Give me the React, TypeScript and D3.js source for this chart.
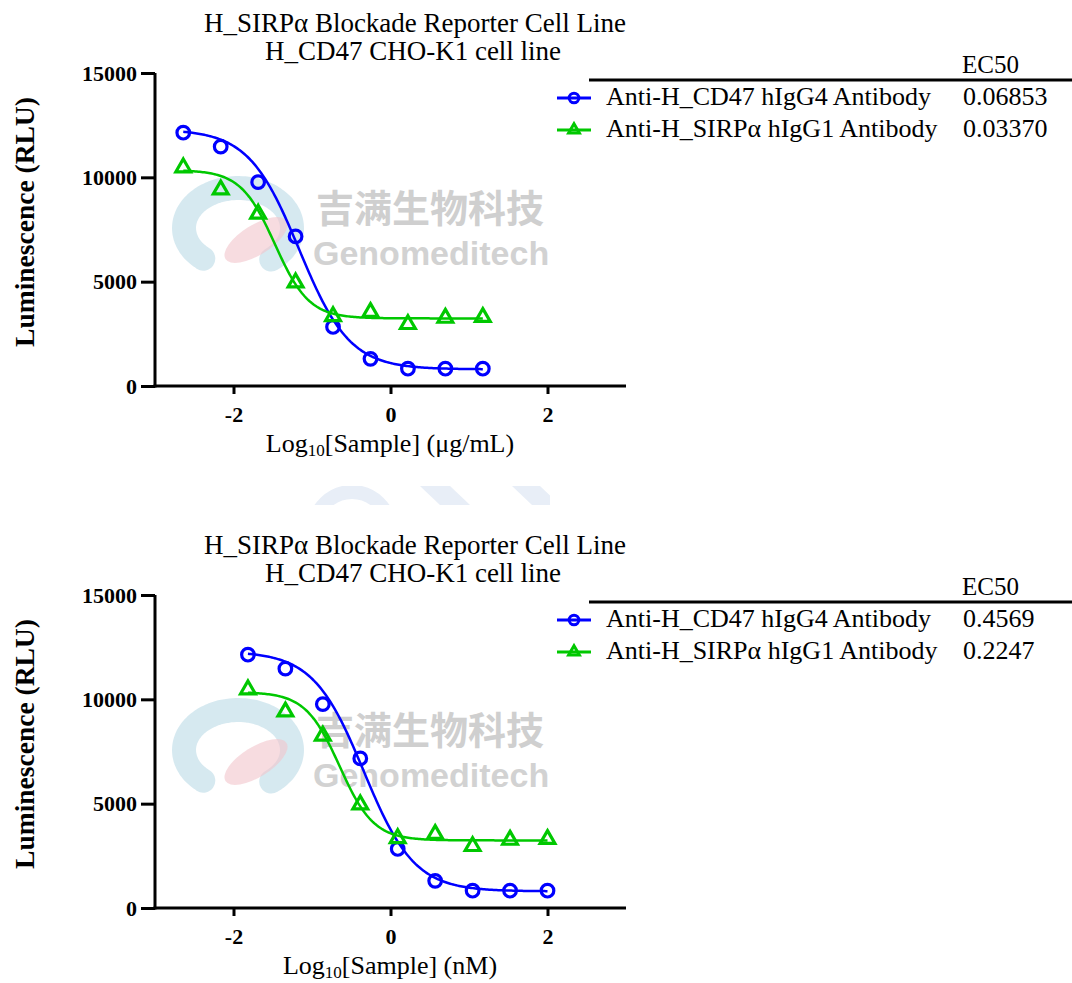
import React from 'react';
import * as d3 from "d3";

// log10 concentrations, 3-fold dilution series
const logConcUgMl = [-2.640, -2.163, -1.686, -1.209, -0.732, -0.255, 0.222, 0.699, 1.176];
const logConcNM = [-1.816, -1.339, -0.862, -0.385, 0.092, 0.569, 1.046, 1.523, 2.000];

const seriesNames = ["Anti-H_CD47 hIgG4 Antibody", "Anti-H_SIRPα hIgG1 Antibody"];
const cd47Values = [12140, 11470, 9770, 7170, 2830, 1300, 830, 830, 830];
const sirpaValues = [10470, 9410, 8250, 4955, 3340, 3540, 2960, 3260, 3300];

const ec50UgMl = [0.06853, 0.03370];
const ec50NM = [0.4569, 0.2247];
const ec50LabelsUg = ["0.06853", "0.03370"];
const ec50LabelsNM = ["0.4569", "0.2247"];

// 4PL fit parameters per series
const fitTop = [12300, 10350];
const fitBottom = [800, 3240];
const fitHill = [1.35, 2.0];

const yTicks = [0, 5000, 10000, 15000];
const xTicks = [-2, 0, 2];
const seriesColors = ["#0000ff", "#00c800"];

const titleLines = ["H_SIRPα Blockade Reporter Cell Line", "H_CD47 CHO-K1 cell line"];
const unitsLabels = ["(μg/mL)", "(nM)"];

const SERIF = "'Liberation Serif', 'Times New Roman', serif";
const W = 1072, H = 983;
const PANEL_SHIFT = 522;

type PanelOpts = {
    dy: number,
    logConc: number[],
    ec50: number[],
    ec50Labels: string[],
    units: string,
};

const App = () => {
    const svgRef = React.useRef<SVGSVGElement>(null);

    React.useEffect(() => {
        const svg = d3.select(svgRef.current);
        svg.selectAll("*").remove();

        const drawWatermark = (dy: number) => {
            const wm = svg.append("g").attr("transform", "translate(0," + dy + ")");
            const cx = 238, cy = 228, rx = 54, ry = 40;
            // "C" ring, open towards the upper right
            const ringPts = d3.range(-50, 235, 3).map(a => {
                const t = ((a - 180) * Math.PI) / 180;
                return [cx + rx * Math.cos(t), cy + ry * Math.sin(t)] as [number, number];
            });
            wm.append("path")
                .attr("d", d3.line().curve(d3.curveBasis)(ringPts))
                .attr("fill", "none")
                .attr("stroke", "#c4e0ea")
                .attr("stroke-opacity", 0.7)
                .attr("stroke-width", 24)
                .attr("stroke-linecap", "round");
            wm.append("ellipse")
                .attr("cx", 256).attr("cy", 240)
                .attr("rx", 36).attr("ry", 15)
                .attr("transform", "rotate(-32,256,240)")
                .attr("fill", "#f2c4cc")
                .attr("opacity", 0.6);
            wm.append("text")
                .attr("x", 316).attr("y", 222)
                .attr("font-family", "'Noto Sans CJK SC', sans-serif")
                .attr("font-weight", "bold")
                .attr("font-size", 38)
                .attr("fill", "#cfcfcf")
                .text("吉满生物科技");
            wm.append("text")
                .attr("x", 313).attr("y", 265)
                .attr("font-family", "'Liberation Sans', Arial, sans-serif")
                .attr("font-weight", "bold")
                .attr("font-size", 34)
                .attr("fill", "#d2d2d2")
                .text("Genomeditech");
        };

        const drawPanel = (o: PanelOpts) => {
            const g = svg.append("g").attr("transform", "translate(0," + o.dy + ")");

            const x = d3.scaleLinear().domain([-3, 3]).range([155, 626]);
            const y = d3.scaleLinear().domain([0, 15000]).range([386, 73]);

            // title
            g.append("text")
                .attr("x", 415).attr("y", 32)
                .attr("text-anchor", "middle")
                .attr("font-family", SERIF)
                .attr("font-size", 27)
                .text(titleLines[0]);
            g.append("text")
                .attr("x", 413).attr("y", 60)
                .attr("text-anchor", "middle")
                .attr("font-family", SERIF)
                .attr("font-size", 27)
                .text(titleLines[1]);

            // axes
            const yAxis = d3.axisLeft(y)
                .tickValues(yTicks)
                .tickSize(14)
                .tickSizeOuter(0)
                .tickPadding(4)
                .tickFormat(d3.format("d") as any);
            const xAxis = d3.axisBottom(x)
                .tickValues(xTicks)
                .tickSize(8)
                .tickSizeOuter(0)
                .tickPadding(12)
                .tickFormat(d3.format("d") as any);

            const ya = g.append("g")
                .attr("transform", "translate(155,0)")
                .call(yAxis);
            const xa = g.append("g")
                .attr("transform", "translate(0,386)")
                .call(xAxis);

            [ya, xa].forEach(a => {
                a.select(".domain").attr("stroke-width", 3).attr("stroke", "#000");
                a.selectAll(".tick line").attr("stroke-width", 3).attr("stroke", "#000");
                a.selectAll(".tick text")
                    .attr("font-family", SERIF)
                    .attr("font-weight", "bold")
                    .attr("font-size", 22)
                    .attr("fill", "#000");
            });
            // stretch the domains so the corner meets cleanly
            xa.select(".domain").attr("d", "M153.5,0H626");
            ya.select(".domain").attr("d", "M0,387.5V73");
            xa.selectAll(".tick text").text((d: any) => d < 0 ? "-" + Math.abs(d) : String(d));

            // y label
            g.append("text")
                .attr("transform", "translate(34,222) rotate(-90)")
                .attr("text-anchor", "middle")
                .attr("font-family", SERIF)
                .attr("font-weight", "bold")
                .attr("font-size", 27.5)
                .text("Luminescence (RLU)");

            // x label with subscript
            const xl = g.append("text")
                .attr("x", 390).attr("y", 452)
                .attr("text-anchor", "middle")
                .attr("font-family", SERIF)
                .attr("font-size", 26);
            xl.append("tspan").text("Log");
            xl.append("tspan").attr("dy", 4).attr("font-size", 17).text("10");
            xl.append("tspan").attr("dy", -4).text("[Sample] " + o.units);

            const seriesValues = [cd47Values, sirpaValues];

            // fitted curves
            seriesValues.forEach((vals, i) => {
                const logEc = Math.log10(o.ec50[i]);
                const x0 = d3.min(o.logConc) as number;
                const x1 = d3.max(o.logConc) as number;
                const pts = d3.range(0, 201).map(k => {
                    const lx = x0 + (x1 - x0) * k / 200;
                    const v = fitBottom[i] + (fitTop[i] - fitBottom[i]) / (1 + Math.pow(10, (lx - logEc) * fitHill[i]));
                    return [lx, v] as [number, number];
                });
                g.append("path")
                    .attr("d", d3.line<[number, number]>()
                        .x(d => x(d[0]))
                        .y(d => y(d[1]))(pts))
                    .attr("fill", "none")
                    .attr("stroke", seriesColors[i])
                    .attr("stroke-width", 2.5);
            });

            // markers
            g.selectAll(".pt-cd47")
                .data(cd47Values)
                .enter()
                .append("circle")
                .attr("cx", (d, k) => x(o.logConc[k]))
                .attr("cy", d => y(d))
                .attr("r", 6.3)
                .attr("fill", "none")
                .attr("stroke", seriesColors[0])
                .attr("stroke-width", 3.2);

            const tri = d3.symbol().type(d3.symbolTriangle).size(95);
            g.selectAll(".pt-sirpa")
                .data(sirpaValues)
                .enter()
                .append("path")
                .attr("d", tri() as string)
                .attr("transform", (d, k) => "translate(" + x(o.logConc[k]) + "," + y(d) + ")")
                .attr("fill", "none")
                .attr("stroke", seriesColors[1])
                .attr("stroke-width", 3.2)
                .attr("stroke-linejoin", "miter");

            // legend with EC50 table
            g.append("text")
                .attr("x", 962).attr("y", 73)
                .attr("font-family", SERIF)
                .attr("font-size", 25)
                .text("EC50");
            g.append("line")
                .attr("x1", 589).attr("x2", W)
                .attr("y1", 80).attr("y2", 80)
                .attr("stroke", "#000")
                .attr("stroke-width", 3);

            const legendBase = [105, 137];
            seriesNames.forEach((name, i) => {
                const cyL = legendBase[i] - 7;
                g.append("line")
                    .attr("x1", 557).attr("x2", 591)
                    .attr("y1", cyL).attr("y2", cyL)
                    .attr("stroke", seriesColors[i])
                    .attr("stroke-width", 3);
                if (i === 0) {
                    g.append("circle")
                        .attr("cx", 574).attr("cy", cyL).attr("r", 4.8)
                        .attr("fill", "none")
                        .attr("stroke", seriesColors[i])
                        .attr("stroke-width", 3);
                } else {
                    g.append("path")
                        .attr("d", d3.symbol().type(d3.symbolTriangle).size(50)() as string)
                        .attr("transform", "translate(574," + cyL + ")")
                        .attr("fill", "none")
                        .attr("stroke", seriesColors[i])
                        .attr("stroke-width", 3);
                }
                g.append("text")
                    .attr("x", 606).attr("y", legendBase[i])
                    .attr("font-family", SERIF)
                    .attr("font-size", 26)
                    .text(name);
                g.append("text")
                    .attr("x", 963).attr("y", legendBase[i])
                    .attr("font-family", SERIF)
                    .attr("font-size", 26)
                    .text(o.ec50Labels[i]);
            });
        };

        drawWatermark(0);
        drawWatermark(PANEL_SHIFT);

        // faint cut-off watermark between the two panels
        const defs = svg.append("defs");
        defs.append("clipPath").attr("id", "midclip")
            .append("rect").attr("x", 300).attr("y", 486).attr("width", 250).attr("height", 19);
        const mid = svg.append("g").attr("clip-path", "url(#midclip)");
        mid.append("circle").attr("cx", 352).attr("cy", 530).attr("r", 38)
            .attr("fill", "none").attr("stroke", "#e8eef7").attr("stroke-width", 14);
        mid.append("path").attr("d", "M420,486L450,486L470,505L440,505Z").attr("fill", "#e8eef7");
        mid.append("path").attr("d", "M512,486L540,486L560,505L532,505Z").attr("fill", "#e8eef7");

        drawPanel({dy: 0, logConc: logConcUgMl, ec50: ec50UgMl, ec50Labels: ec50LabelsUg, units: unitsLabels[0]});
        drawPanel({dy: PANEL_SHIFT, logConc: logConcNM, ec50: ec50NM, ec50Labels: ec50LabelsNM, units: unitsLabels[1]});

        return () => {
            svg.selectAll("*").remove();
        };
    }, []);

    return (
        <svg
            ref={svgRef}
            width={W}
            height={H}
            style={{position: "absolute", left: 0, top: 0, background: "white"}}
        />
    );
};

export default App;
